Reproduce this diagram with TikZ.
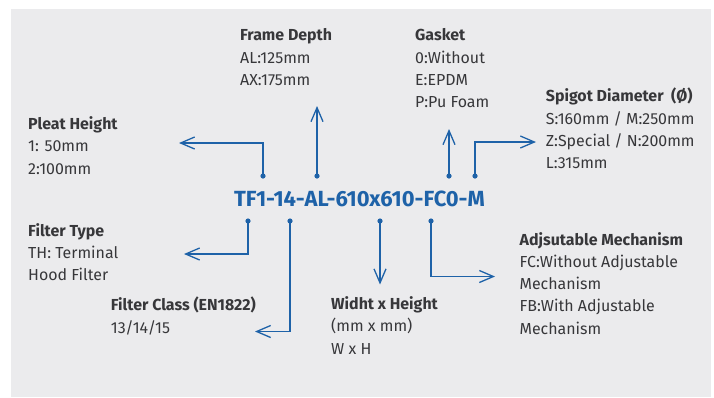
\documentclass[tikz,border=0pt]{standalone}
\usepackage{fontspec}
\setmainfont{Fira Sans}
\usetikzlibrary{arrows.meta,positioning}
\definecolor{bgcol}{RGB}{235,235,237}
\definecolor{codecol}{RGB}{30,98,168}
\definecolor{txtcol}{RGB}{55,55,58}

\begin{document}
\begin{tikzpicture}[x=1bp,y=-1bp,>={Straight Barb[length=14bp,width=12bp]},
  lbl/.style={anchor=base west,inner sep=0pt,text=txtcol,align=left,
    font=\fontsize{16}{22.3}\selectfont},
  link/.style={codecol,line width=1.3bp},
  dot/.style={codecol}]
\useasboundingbox (0,0) rectangle (714,397);
\fill[bgcol] (11,9) rectangle (711,397);
% ---- product code ----
\node[anchor=base,inner sep=0pt,text=codecol,font=\fontsize{22}{26}\bfseries]
  (code) at (359.5,206) {TF1-14-AL-610x610-FC0-M};
% dots above and below the code
\coordinate (pleat-dot) at (263,176); \coordinate (frame-dot) at (317,176);
\coordinate (gasket-dot) at (449,176); \coordinate (spigot-dot) at (475,176);
\coordinate (type-dot) at (248,221); \coordinate (class-dot) at (290,221);
\coordinate (size-dot) at (380,221); \coordinate (mech-dot) at (431,221);
\foreach \d in {pleat,frame,gasket,spigot,type,class,size,mech}
  \fill[dot] (\d-dot) circle (2.6);
% arrow ends
\coordinate (pleat-end) at (179,143); \coordinate (frame-end) at (317,106);
\coordinate (gasket-end) at (449,129); \coordinate (spigot-end) at (536,142);
\coordinate (type-end) at (184,254); \coordinate (class-end) at (255,331.5);
\coordinate (size-end) at (380,284.5); \coordinate (mech-end) at (495,276.5);
% ---- labels (anchored at the baseline of the last line) ----
\node[lbl] (pleat) at (28,174) {\textbf{Pleat Height}\\1: 50mm\\2:100mm};
\node[lbl] (frame) at (240,85.3) {\textbf{Frame Depth}\\AL:125mm\\AX:175mm};
\node[lbl] (gasket) at (415,107.5) {\textbf{Gasket}\\0:Without\\E:EPDM\\P:Pu Foam};
\node[lbl] (spigot) at (545.7,168.5) {\textbf{Spigot Diameter\ \ (Ø)}\\S:160mm / M:250mm\\Z:Special / N:200mm\\L:315mm};
\node[lbl] (type) at (28,280.5) {\textbf{Filter Type}\\TH: Terminal\\Hood Filter};
\node[lbl] (class) at (110.7,333) {\textbf{Filter Class (EN1822)}\\13/14/15};
\node[lbl] (size) at (331,354) {\textbf{Widht x Height}\\(mm x mm)\\W x H};
\node[lbl] (mech) at (519.4,334) {\textbf{Adjsutable Mechanism}\\FC:Without Adjustable\\Mechanism\\FB:With Adjustable\\Mechanism};
% ---- connectors ----
\draw[link,->] (pleat-dot) |- (pleat-end);
\draw[link,->] (frame-dot) -- (frame-end);
\draw[link,->] (gasket-dot) -- (gasket-end);
\draw[link,->] (spigot-dot) |- (spigot-end);
\draw[link,->] (type-dot) |- (type-end);
\draw[link,->] (class-dot) |- (class-end);
\draw[link,->] (size-dot) -- (size-end);
\draw[link,->] (mech-dot) |- (mech-end);
\end{tikzpicture}
\end{document}
